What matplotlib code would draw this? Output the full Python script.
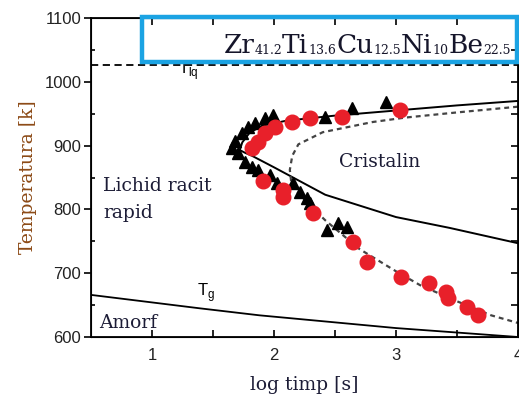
import numpy as np
import matplotlib
matplotlib.use('Agg')
import matplotlib.pyplot as plt
from matplotlib.patches import Rectangle

# measured points (log t [s], T [K])
tri_x = [1.654, 1.703, 1.678, 1.736, 1.785, 1.842, 1.924, 1.989, 1.760, 1.818, 1.867,
         1.965, 2.022, 2.153, 2.210, 2.268, 2.292, 2.415, 2.636, 2.922, 2.431, 2.521, 2.595]
tri_y = [896, 888, 907, 920, 929, 935, 943, 948, 874, 866, 862,
         854, 841, 841, 827, 818, 810, 945, 959, 968, 768, 779, 772]

circ_x = [1.818, 1.867, 1.924, 2.006, 2.145, 2.292, 2.554, 3.029,
          1.907, 2.071, 2.071, 2.317, 2.644, 2.759, 3.045, 3.274, 3.413, 3.429, 3.585, 3.675]
circ_y = [896, 906, 920, 929, 937, 943, 945, 956,
          845, 830, 819, 794, 749, 718, 694, 685, 671, 661, 647, 634]

# solid C-curve (upper branch from the right, nose, lower branch to the right)
c_solid_x = [4.0, 3.5, 3.0, 2.5, 2.1, 1.9, 1.8, 1.74, 1.72, 1.76, 1.82, 2.0, 2.42, 3.0, 3.44, 4.0]
c_solid_y = [970, 963, 955, 947, 939, 931, 920, 905, 893, 889, 884, 866, 823, 788, 771, 747]

# dashed C-curve
c_dash_x = [4.0, 3.5, 3.08, 2.81, 2.4, 2.2, 2.15, 2.13, 2.14, 2.2, 2.3, 2.42, 2.7, 3.0, 3.2, 3.5, 3.78, 4.0]
c_dash_y = [961, 952, 944, 937, 921, 902, 884, 862, 845, 825, 805, 783, 738, 703, 681, 656, 634, 622]

# glass transition line
tg_x = [0.5, 1.39, 1.88, 3.0, 3.5, 4.0]
tg_y = [666, 645, 634, 614, 607, 600]

t_liq = 1026

title_parts = [('Zr', False), ('41.2', True), ('Ti', False), ('13.6', True),
               ('Cu', False), ('12.5', True), ('Ni', False), ('10', True),
               ('Be', False), ('22.5', True)]

W, H = 519, 401
fig = plt.figure(figsize=(5.19, 4.01), dpi=100)
ax = fig.add_axes([0.1753, 0.1596, 0.8227, 0.7955])

ax.axhline(t_liq, color='black', lw=1.3, linestyle=(0, (4, 2.5)))
ax.plot(tg_x, tg_y, color='black', lw=1.3)
ax.plot(c_solid_x, c_solid_y, color='black', lw=1.4)
ax.plot(c_dash_x, c_dash_y, color='#444444', lw=1.6, linestyle=(0, (2.2, 1.8)))

ax.plot(tri_x, tri_y, linestyle='none', marker='^', color='black', ms=9)
ax.plot(circ_x, circ_y, linestyle='none', marker='o', color='#e8202a', ms=10.5)

ax.set_xlim(0.5, 4.0)
ax.set_ylim(600, 1100)
ax.set_xticks([1, 2, 3, 4])
ax.set_xticks([1.5, 2.5, 3.5], minor=True)
ax.set_yticks([600, 700, 800, 900, 1000, 1100])
ax.set_yticks([650, 750, 850, 950, 1050], minor=True)
for s in ax.spines.values():
    s.set_linewidth(1.3)
ax.tick_params(axis='x', which='both', direction='in', top=True, length=5, width=1.2,
               labelsize=12, pad=8)
ax.tick_params(axis='y', which='major', direction='out', length=5, width=1.2, labelsize=12, pad=2)
ax.tick_params(axis='y', which='minor', direction='in', length=3, width=1.2)
for lab in ax.get_xticklabels() + ax.get_yticklabels():
    lab.set_family('Liberation Sans')
    lab.set_color('#222222')

# right axis ticks every 50
ax2 = ax.twinx()
ax2.set_ylim(600, 1100)
ax2.set_yticks(np.arange(650, 1100, 50))
ax2.tick_params(axis='y', direction='in', length=5, width=1.2, labelright=False)

serif = 'DejaVu Serif'
tc = '#1c1c36'
ax.text(0.6, 829, 'Lichid racit', family=serif, fontsize=13.5, color=tc)
ax.text(0.6, 786, 'rapid', family=serif, fontsize=13.5, color=tc)
ax.text(2.53, 866, 'Cristalin', family=serif, fontsize=13.5, color=tc)
ax.text(0.57, 614, 'Amorf', family=serif, fontsize=13.5, color=tc)
ax.text(1.37, 664, r'T$_{\mathregular{g}}$', family='Liberation Sans', fontsize=12, color='black')
ax.text(1.21, 1013, r'T$_{\mathregular{lq}}$', family='Liberation Sans', fontsize=12, color='black')

ax.set_xlabel('log timp [s]', family=serif, fontsize=13.5, color=tc, labelpad=9)
ax.set_ylabel('Temperatura [k]', family=serif, fontsize=13.5, color='#8c4a16', labelpad=5)

fig.patches.append(Rectangle((0.2736, 0.8454), 0.7225, 0.1122, transform=fig.transFigure,
                             fill=False, edgecolor='#1ba3e3', lw=3.2))

# formula in the box: big element symbols, small subscripts, right aligned
renderer = fig.canvas.get_renderer()
texts = []
for s, sub in title_parts:
    t = fig.text(0, 0, s, family=serif, fontsize=9 if sub else 19, color='#15152a',
                 va='baseline')
    texts.append((t, sub))
widths = [t.get_window_extent(renderer).width for t, _ in texts]
x = 511 - sum(widths)
for (t, sub), w in zip(texts, widths):
    t.set_position((x / W, (348 - (1.5 if sub else 0)) / H))
    x += w

fig.savefig('out.png', dpi=100)
